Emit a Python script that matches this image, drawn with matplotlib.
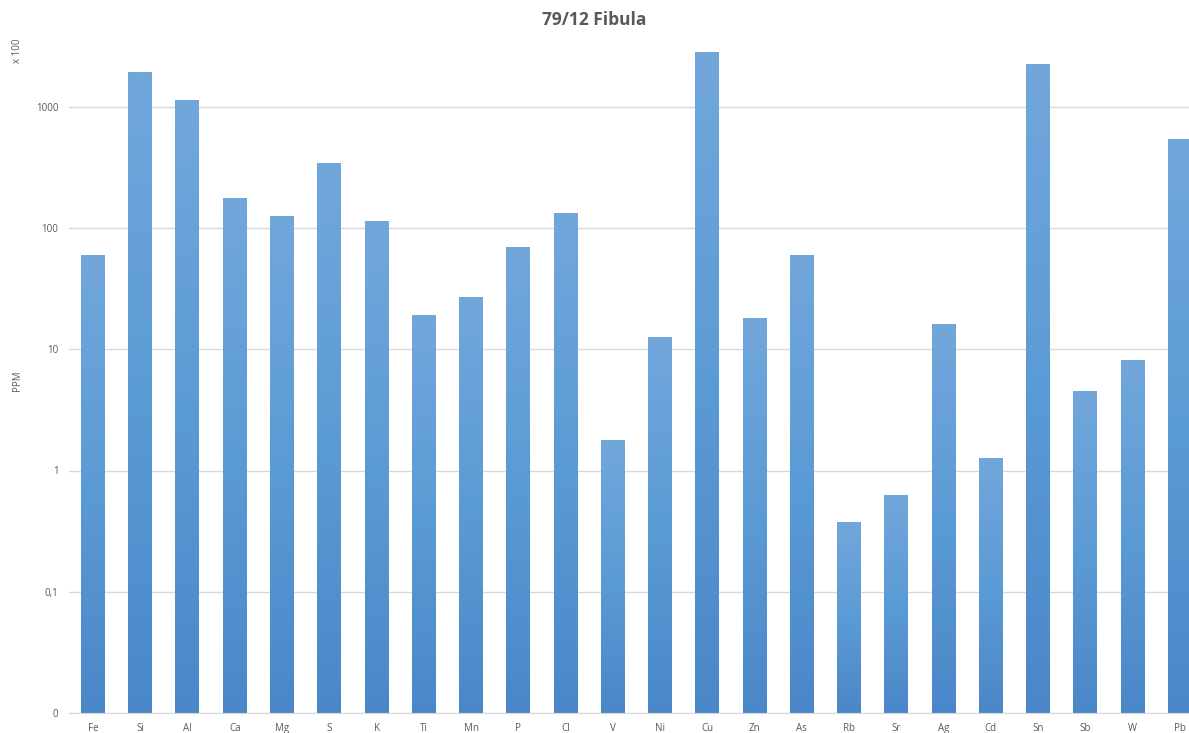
import numpy as np
import matplotlib
matplotlib.use("Agg")
import matplotlib.pyplot as plt
from matplotlib.colors import LinearSegmentedColormap
from matplotlib.transforms import blended_transform_factory

elements = ["Fe", "Si", "Al", "Ca", "Mg", "S", "K", "Ti", "Mn", "P", "Cl", "V",
            "Ni", "Cu", "Zn", "As", "Rb", "Sr", "Ag", "Cd", "Sn", "Sb", "W", "Pb"]
values = [61, 1945, 1140, 177, 128, 345, 115, 19.2, 27, 71, 133, 1.79,
          12.7, 2850, 18.2, 61, 0.377, 0.64, 16.2, 1.27, 2265, 4.54, 8.2, 545]
ytick_values = [0.01, 0.1, 1, 10, 100, 1000]
ytick_labels = ["0", "0,1", "1", "10", "100", "1000"]
title = "79/12 Fibula"

plt.rcParams['font.family'] = ['Open Sans', 'DejaVu Sans']
txt = "#595959"

fig = plt.figure(figsize=(11.89, 7.33), dpi=100)
ax = fig.add_axes([69.4 / 1189, 20 / 733, (1203.6 - 69.4) / 1189, (713 - 34) / 733])

x = np.arange(len(elements))
bars = ax.bar(x, values, width=0.51, facecolor="none", edgecolor="none",
              zorder=2, bottom=0.01)
ax.set_yscale("log")
ax.set_ylim(0.01, 10 ** 3.6)
ax.set_xlim(-0.5, len(elements) - 0.5)

cmap = LinearSegmentedColormap.from_list("g", ["#4a87c9", "#5b9bd5", "#72a7dc"])
grad = np.linspace(0, 1, 256).reshape(-1, 1)
trans = blended_transform_factory(ax.transData, ax.transAxes)
for b, v in zip(bars, values):
    top = ax.transAxes.inverted().transform(ax.transData.transform((0, v)))[1]
    x0 = b.get_x()
    im = ax.imshow(grad, cmap=cmap, origin="lower", aspect="auto",
                   extent=[x0, x0 + b.get_width(), 0, top], transform=trans,
                   zorder=3, interpolation="bilinear")
    im.set_clip_path(b)
ax.set_xlim(-0.5, len(elements) - 0.5)
ax.set_ylim(0.01, 10 ** 3.6)

ax.set_yticks(ytick_values)
ax.set_yticklabels(ytick_labels)
ax.minorticks_off()
ax.set_xticks(x)
ax.set_xticklabels(elements)
ax.tick_params(axis="both", length=0, labelsize=7, colors=txt)
ax.tick_params(axis="y", pad=8)
ax.tick_params(axis="x", pad=7)
ax.grid(axis="y", color="#d9d9d9", linewidth=1, zorder=0)
for s in ["top", "right", "left"]:
    ax.spines[s].set_visible(False)
ax.spines["bottom"].set_color("#d9d9d9")
ax.spines["bottom"].set_zorder(4)

ax.set_ylabel("PPM", fontsize=7, color=txt)
ax.yaxis.set_label_coords(-46 / (1203.6 - 69.4), 0.49)
fig.text(17 / 1189, 1 - 51 / 733, "x 100", rotation=90, fontsize=7, color=txt,
         ha="center", va="center")
fig.text(0.5, 1 - 20 / 733, title, fontsize=12.5, fontweight="bold", color=txt,
         ha="center", va="center")

fig.savefig("out.png", dpi=100, facecolor="white")
